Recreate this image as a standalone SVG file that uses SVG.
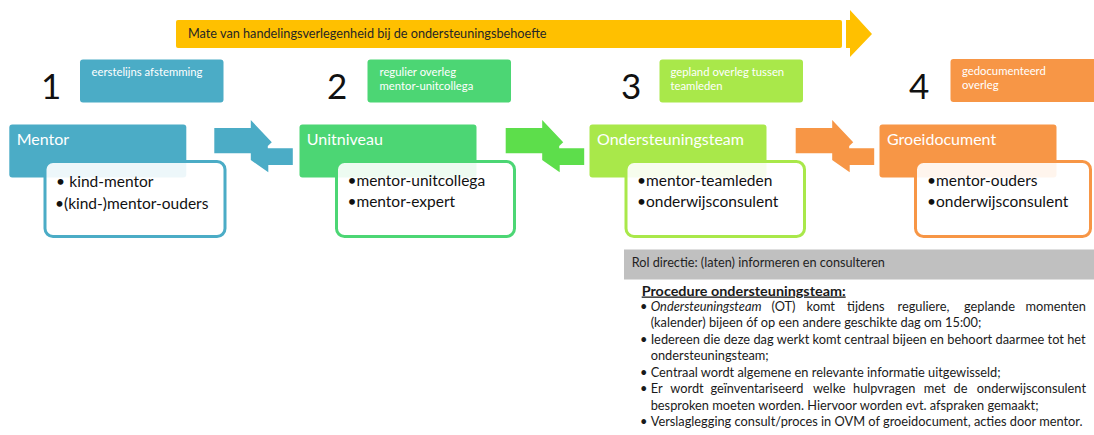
<svg xmlns="http://www.w3.org/2000/svg" xmlns:xlink="http://www.w3.org/1999/xlink" width="1094" height="435" viewBox="0 0 1094 435">
<style>
  text { font-family: Lato, "Liberation Sans", sans-serif; }
  .num { font-size: 35px; fill: #111; }
  .lbl { font-size: 11.3px; fill: #ffffff; }
  .head { font-size: 16px; fill: #ffffff; }
  .item { font-size: 15.5px; fill: #111; }
  .wbox { fill: #ffffff; fill-opacity: 0.9; stroke-width: 3; }
  .proc { font-size: 12.8px; fill: #1a1a1a; }
  .blue { fill: #4BACC6; }
  .green { fill: #4CD674; }
  .lime { fill: #A9E84A; }
  .orange { fill: #F79646; }
</style>
<defs>
  <path id="bent" d="M0,128 L36.5,128 L36.5,120 L57.5,142.3 L53.5,146 L53.5,148.3 L78.5,148.3 L78.5,165 L54,165 L54,172.3 L37.5,160.7 L36.5,160 L36.5,153.3 L0,153.3 Z"/>
</defs>
<rect width="1094" height="435" fill="#ffffff"/>

<g id="scale-bar">
  <rect x="176" y="20" width="666" height="28" rx="2" fill="#FFC000"/>
  <path d="M846,20 L850,20 L850,10 L872,34 L850,57 L850,48 L846,48 Z" fill="#FFC000"/>
  <text x="188" y="37.5" font-size="12.7" fill="#262626">Mate van handelingsverlegenheid bij de ondersteuningsbehoefte</text>
</g>

<g id="step1">
  <text class="num" x="41" y="99">1</text>
  <rect class="blue" x="80" y="59.5" width="143.5" height="43" rx="3"/>
  <text class="lbl" x="91.5" y="75.5">eerstelijns afstemming</text>
</g>
<g id="step2">
  <text class="num" x="327" y="99">2</text>
  <rect class="green" x="367.5" y="59.5" width="143.5" height="43" rx="3"/>
  <text class="lbl" x="379.5" y="75.5">regulier overleg</text>
  <text class="lbl" x="379.5" y="89.5">mentor-unitcollega</text>
</g>
<g id="step3">
  <text class="num" x="621" y="99">3</text>
  <rect class="lime" x="659.5" y="59.5" width="143.5" height="43" rx="3"/>
  <text class="lbl" x="670.5" y="75.5">gepland overleg tussen</text>
  <text class="lbl" x="670.5" y="89.5">teamleden</text>
</g>
<g id="step4">
  <text class="num" x="909" y="99">4</text>
  <rect class="orange" x="950.5" y="59" width="146" height="43" rx="3"/>
  <text class="lbl" x="962" y="75">gedocumenteerd</text>
  <text class="lbl" x="962" y="89">overleg</text>
</g>

<g id="connectors">
  <use xlink:href="#bent" href="#bent" x="214.3" fill="#4BACC6"/>
  <use xlink:href="#bent" href="#bent" x="505.7" fill="#5DDE4B"/>
  <use xlink:href="#bent" href="#bent" x="795.7" fill="#F79646"/>
</g>

<g id="node-mentor">
  <rect class="blue" x="9.3" y="124.5" width="177" height="53" rx="3"/>
  <text class="head" x="16.7" y="145">Mentor</text>
  <rect class="wbox" x="45" y="161.5" width="180" height="75" rx="8" stroke="#4BACC6"/>
  <text class="item" x="56" y="187" font-size="18.5">•<tspan x="69.3">kind-mentor</tspan></text>
  <text class="item" x="55" y="208.5">•(kind-)mentor-ouders</text>
</g>

<g id="node-unitniveau">
  <rect class="green" x="299.5" y="124.5" width="177" height="53" rx="3"/>
  <text class="head" x="306.7" y="145">Unitniveau</text>
  <rect class="wbox" x="336.5" y="161.5" width="178" height="75" rx="8" stroke="#4CD674"/>
  <text class="item" x="347.4" y="185.5">•mentor-unitcollega</text>
  <text class="item" x="347.4" y="206.5">•mentor-expert</text>
</g>

<g id="node-ondersteuningsteam">
  <rect class="lime" x="589.5" y="124.5" width="177" height="53" rx="3"/>
  <text class="head" x="597" y="145">Ondersteuningsteam</text>
  <rect class="wbox" x="626" y="161.5" width="178.5" height="75" rx="8" stroke="#A9E84A"/>
  <text class="item" x="637" y="185.5">•mentor-teamleden</text>
  <text class="item" x="637" y="206.5">•onderwijsconsulent</text>
</g>

<g id="node-groeidocument">
  <rect class="orange" x="879.5" y="124.5" width="177" height="53" rx="3"/>
  <text class="head" x="887" y="145">Groeidocument</text>
  <rect class="wbox" x="915.5" y="161.5" width="175" height="75" rx="8" stroke="#F79646"/>
  <text class="item" x="927" y="185.5">•mentor-ouders</text>
  <text class="item" x="927" y="206.5">•onderwijsconsulent</text>
</g>

<g id="rol-directie">
  <rect x="624" y="249.5" width="470" height="30" fill="#C0C0C0"/>
  <text x="631.7" y="266.5" font-size="12.7" fill="#1f1f1f">Rol directie: (laten) informeren en consulteren</text>
</g>

<g id="procedure">
  <text class="proc" x="641.7" y="295.5" font-weight="bold" text-decoration="underline" font-size="14" textLength="204" lengthAdjust="spacingAndGlyphs">Procedure ondersteuningsteam:</text>
  <text class="proc" y="311"><tspan x="640">•</tspan><tspan x="650.7" font-style="italic">Ondersteuningsteam</tspan><tspan x="771.5">(OT)</tspan><tspan x="806.5">komt</tspan><tspan x="847">tijdens</tspan><tspan x="897.5">reguliere,</tspan><tspan x="964">geplande</tspan></text>
  <text class="proc" x="1086" y="311" text-anchor="end">momenten</text>
  <text class="proc" x="650.7" y="327.4">(kalender) bijeen óf op een andere geschikte dag om 15:00;</text>
  <text class="proc" y="343.9"><tspan x="640">•</tspan><tspan x="650.7" textLength="435" lengthAdjust="spacing">Iedereen die deze dag werkt komt centraal bijeen en behoort daarmee tot het</tspan></text>
  <text class="proc" x="650.7" y="360.3">ondersteuningsteam;</text>
  <text class="proc" y="376.7"><tspan x="640">•</tspan><tspan x="650.7">Centraal wordt algemene en relevante informatie uitgewisseld;</tspan></text>
  <text class="proc" y="393.1"><tspan x="640">•</tspan><tspan x="650.7">Er</tspan><tspan x="670.3">wordt</tspan><tspan x="710.4">geïnventariseerd</tspan><tspan x="812.9">welke</tspan><tspan x="853">hulpvragen</tspan><tspan x="923.8">met</tspan><tspan x="953.6">de</tspan></text>
  <text class="proc" x="1086" y="393.1" text-anchor="end">onderwijsconsulent</text>
  <text class="proc" x="650.7" y="409.6">besproken moeten worden. Hiervoor worden evt. afspraken gemaakt;</text>
  <text class="proc" y="426"><tspan x="640">•</tspan><tspan x="650.7">Verslaglegging consult/proces in OVM of groeidocument, acties door mentor.</tspan></text>
</g>
</svg>
